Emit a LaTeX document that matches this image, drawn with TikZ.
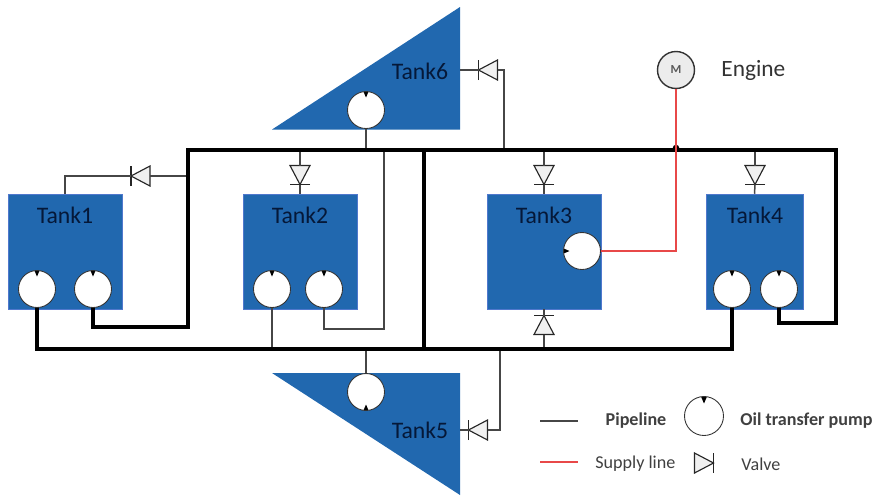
\documentclass[tikz,border=0pt]{standalone}
\usepackage{fontspec}
\setmainfont{Carlito}
\definecolor{tankblue}{RGB}{33,104,175}
\definecolor{tankedge}{RGB}{80,120,205}
\definecolor{tankink}{RGB}{5,24,56}
\definecolor{pipegray}{RGB}{70,70,70}
\definecolor{supplyred}{RGB}{232,72,72}
\tikzset{
  valve/.pic={
    \draw[black!85,line width=0.65pt,fill=gray!12,line join=miter] (-9.5,-10) -- (-9.5,10) -- (9.5,0) -- cycle;
    \draw[black!85,line width=0.65pt] (9.5,-10) -- (9.5,10);
    \coordinate (-in) at (-9.5,0);
    \coordinate (-out) at (9.5,0);
  }
}

\begin{document}
\begin{tikzpicture}[x=0.02cm,y=-0.02cm,
    tank/.style = {fill=tankblue, draw=tankedge, line width=0.3pt, inner sep=0pt},
    tanktext/.style = {text=tankink, font=\fontsize{13.5}{15}\selectfont, inner sep=0pt},
    pump/.style = {draw=black!80, fill=white, circle, inner sep=0pt, minimum size=0.74cm, line width=0.5pt,
      path picture={\fill[black,shift={(path picture bounding box.center)}] (#1-9:20) -- (#1+9:20) -- (#1:12.5) -- cycle;}},
    pump/.default = -90,
    motor/.style = {draw=black!80, fill=gray!15, circle, inner sep=0pt, minimum size=0.74cm, line width=0.8pt, text=black!65, font=\fontsize{7}{8}\selectfont\bfseries},
    pipe/.style = {draw=pipegray, line width=0.85pt},
    header/.style = {draw=black, line width=2.1pt, line join=miter},
    supply/.style = {draw=supplyred, line width=0.85pt},
    legendtext/.style = {text=black!75, font=\fontsize{10.3}{12}\selectfont, inner sep=0pt},
    hopdot/.style = {fill=black, circle, inner sep=0pt, minimum size=0.13cm}]

    \useasboundingbox (0,0) rectangle (879,495);

    % tanks
    \node[tank, minimum width=2.28cm, minimum height=2.3cm] (tank1) at (65,251.5) {};
    \node[tank, minimum width=2.28cm, minimum height=2.3cm] (tank2) at (300,251.5) {};
    \node[tank, minimum width=2.28cm, minimum height=2.3cm] (tank3) at (544,251.5) {};
    \node[tank, minimum width=1.94cm, minimum height=2.3cm] (tank4) at (754.5,251.5) {};
    \fill[tankblue] (272,129.5) -- (460,7) -- (460,129.5) -- cycle;
    \fill[tankblue] (272,373) -- (460,373) -- (460,495) -- cycle;

    \node[tanktext] (text1) at (65,215) {Tank1};
    \node[tanktext] (text2) at (300,215) {Tank2};
    \node[tanktext] (text3) at (544,215) {Tank3};
    \node[tanktext] (text4) at (755,215) {Tank4};
    \node[tanktext] (text5) at (420,430) {Tank5};
    \node[tanktext] (text6) at (420,71) {Tank6};

    % pumps
    \node[pump] (p11) at (37,289) {};
    \node[pump] (p12) at (93,289) {};
    \node[pump] (p21) at (272,289) {};
    \node[pump] (p22) at (324,289) {};
    \node[pump=180] (p3) at (582,251) {};
    \node[pump] (p41) at (732,289) {};
    \node[pump] (p42) at (779,289) {};
    \node[pump=90] (p5) at (366,392) {};
    \node[pump] (p6) at (366,110) {};
    \node[motor] (m) at (676,70) {M};
    \node[anchor=west, text=black!80, inner sep=0pt, font=\fontsize{13.3}{15}\selectfont] (engine) at (721,70) {Engine};

    % valves
    \pic[rotate=180] (v1) at (140.5,176) {valve};
    \pic[rotate=-90] (v2) at (300,175) {valve};
    \pic[rotate=-90] (v3) at (544,175) {valve};
    \pic[rotate=90] (v3b) at (544,325) {valve};
    \pic[rotate=-90] (v4) at (755,175) {valve};
    \pic[rotate=180] (v5) at (478,430) {valve};
    \pic[rotate=180] (v6) at (488,70) {valve};

    % main lines
    \coordinate (a) at (188,327);
    \coordinate (b) at (188,150);
    \coordinate (c) at (836,150);
    \coordinate (d) at (836,323);
    \coordinate (e) at (424,349);
    \coordinate (f) at (424,150);
    \coordinate (g) at (384,329);
    \coordinate (h) at (504,70);
    \coordinate (i) at (500,430);
    \coordinate (t5) at (460,430);
    \coordinate (t6) at (460,70);

    % thin pipes
    \draw[pipe] (tank1.north) |- (v1-out);
    \draw[pipe] (v1-in) -- (v1-in -| b);
    \draw[pipe] (v2-in) -- (v2-in |- b);
    \draw[pipe] (v2-out) -- (tank2.north);
    \draw[pipe] (v3-in) -- (v3-in |- b);
    \draw[pipe] (v3-out) -- (tank3.north);
    \draw[pipe] (v3b-in) -- (v3b-in |- e);
    \draw[pipe] (v3b-out) -- (tank3.south);
    \draw[pipe] (v4-in) -- (v4-in |- b);
    \draw[pipe] (v4-out) -- (tank4.north);
    \draw[pipe] (p21.south) -- (p21.south |- e);
    \draw[pipe] (p22.south) |- (g) -- (g |- b);
    \draw[pipe] (p6.south) -- (p6.south |- b);
    \draw[pipe] (p5.north) -- (p5.north |- e);
    \draw[pipe] (t6) -- (v6-out);
    \draw[pipe] (v6-in) -- (h) -- (h |- b);
    \draw[pipe] (t5) -- (v5-out);
    \draw[pipe] (v5-in) -- (i) -- (i |- e);

    \draw[header] (p12.south) |- (a) -- (b) -- (c) -- (d) -| (p42.south);
    \draw[header] (p11.south) |- (e) -| (p41.south);
    \draw[header] (f) -- (e);

    % supply line
    \node[hopdot] (hop) at (676,148) {};
    \draw[supply] (p3.east) -| (m.south);

    % legend
    \coordinate (l1) at (540,421);
    \coordinate (l2) at (578,421);
    \coordinate (l3) at (540,462);
    \coordinate (l4) at (578,462);
    \draw[pipe] (l1) -- (l2);
    \draw[supply] (l3) -- (l4);
    \node[legendtext, font=\fontsize{10.3}{12}\selectfont\bfseries] (lpipe) at (636,421) {Pipeline};
    \node[pump, minimum size=0.78cm] (lpump) at (704,416) {};
    \node[legendtext, anchor=west, font=\fontsize{10.3}{12}\selectfont\bfseries] (lpumptext) at (740,421) {Oil transfer pump};
    \node[legendtext, anchor=west] (lsupply) at (595,464) {Supply line};
    \pic (lv) at (704,463) {valve};
    \node[legendtext, anchor=west] (lvalve) at (741,464) {Valve};
\end{tikzpicture}
\end{document}
